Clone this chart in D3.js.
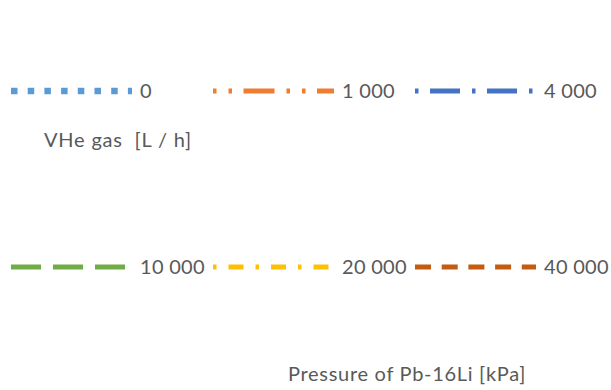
<!DOCTYPE html>
<html>
<head>
<meta charset="utf-8">
<script src="https://cdn.jsdelivr.net/npm/d3@7"></script>
<style>
  body { margin: 0; background: #fff; }
  svg text { font-family: Lato, "Open Sans", sans-serif; fill: #595959; white-space: pre; }
</style>
</head>
<body>
<div id="chart"></div>
<script>
  // legend series (gas flow levels)
  const seriesLabels = ["0", "1 000", "4 000", "10 000", "20 000", "40 000"];
  const seriesColors = ["#5b9bd5", "#ed7d31", "#4472c4", "#70ad47", "#ffc000", "#c55a11"];
  const seriesDashes = ["6.5,10.2", "3.5,12,3.5,11.5,31,12", "3.5,11.5,30,12", "30,12", "3.5,12,15,12", "16,10.7"];
  const seriesWidths = [6.5, 5, 5, 5, 5, 5];
  const legendTitle = "VHe gas  [L / h]";
  const axisTitle = "Pressure of Pb-16Li [kPa]";

  const width = 611, height = 390;
  const lineLen = 121;

  const svg = d3.select("#chart")
    .append("svg")
    .attr("width", width)
    .attr("height", height);

  const items = seriesLabels.map((d, i) => ({
    label: d,
    color: seriesColors[i],
    dash: seriesDashes[i],
    sw: seriesWidths[i],
    col: i % 3,
    row: Math.floor(i / 3)
  }));

  // column / row placement
  const xScale = d3.scalePoint().domain([0, 1, 2]).range([11, 415]);
  const yScale = d3.scalePoint().domain([0, 1]).range([91, 267]);

  const entry = svg.selectAll(".entry")
    .data(items)
    .enter()
    .append("g")
    .attr("class", "entry")
    .attr("transform", (d) => `translate(${xScale(d.col)}, ${yScale(d.row)})`);

  entry.append("line")
    .attr("x1", 0)
    .attr("x2", lineLen)
    .attr("y1", 0)
    .attr("y2", 0)
    .style("stroke", (d) => d.color)
    .style("stroke-width", (d) => d.sw)
    .style("stroke-dasharray", (d) => d.dash);

  entry.append("text")
    .attr("x", 129)
    .attr("y", 0)
    .attr("dy", "0.36em")
    .style("font-size", "20px")
    .style("letter-spacing", "0.3px")
    .text((d) => d.label);

  svg.append("text")
    .attr("x", 44)
    .attr("y", 147)
    .style("font-size", "20px")
    .style("letter-spacing", "0.8px")
    .text(legendTitle);

  svg.append("text")
    .attr("x", 288)
    .attr("y", 381)
    .style("font-size", "20px")
    .style("letter-spacing", "0.7px")
    .text(axisTitle);
</script>
</body>
</html>
